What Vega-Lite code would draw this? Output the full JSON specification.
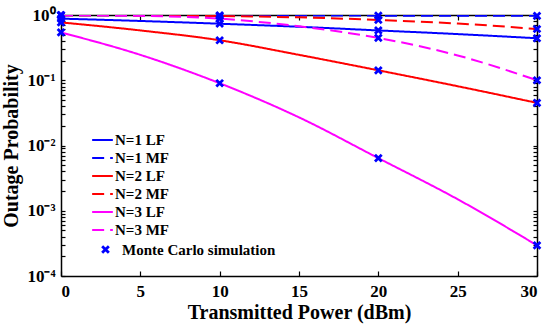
{
  "$schema": "https://vega.github.io/schema/vega-lite/v6.json",
  "width": 476,
  "height": 261,
  "autosize": {"type": "none"},
  "padding": {"left": 61, "top": 15, "right": 13, "bottom": 52},
  "config": {
    "view": {"stroke": null},
    "font": "Liberation Serif",
    "axis": {
      "domainColor": "black", "domainWidth": 1.5, "tickColor": "black", "tickWidth": 1.2,
      "labelFont": "Liberation Serif", "labelFontWeight": "bold", "labelFontSize": 17, "labelColor": "black",
      "titleFont": "Liberation Serif", "titleFontWeight": "bold", "titleFontSize": 20, "titleColor": "black",
      "grid": false
    },
    "legend": {"labelFont": "Liberation Serif", "labelFontWeight": "bold", "labelFontSize": 15, "labelColor": "black"}
  },
  "datasets": {
    "lines": [
      {"p": 0, "v": 0.88, "s": "N=1 LF"}, {"p": 5, "v": 0.81, "s": "N=1 LF"}, {"p": 10, "v": 0.735, "s": "N=1 LF"}, {"p": 15, "v": 0.66, "s": "N=1 LF"}, {"p": 20, "v": 0.58, "s": "N=1 LF"}, {"p": 25, "v": 0.51, "s": "N=1 LF"}, {"p": 30, "v": 0.44, "s": "N=1 LF"},
      {"p": 0, "v": 0.992, "s": "N=1 MF"}, {"p": 5, "v": 0.988, "s": "N=1 MF"}, {"p": 10, "v": 0.985, "s": "N=1 MF"}, {"p": 15, "v": 0.982, "s": "N=1 MF"}, {"p": 20, "v": 0.978, "s": "N=1 MF"}, {"p": 25, "v": 0.974, "s": "N=1 MF"}, {"p": 30, "v": 0.97, "s": "N=1 MF"},
      {"p": 0, "v": 0.77, "s": "N=2 LF"}, {"p": 5, "v": 0.58, "s": "N=2 LF"}, {"p": 10, "v": 0.41, "s": "N=2 LF"}, {"p": 15, "v": 0.245, "s": "N=2 LF"}, {"p": 20, "v": 0.142, "s": "N=2 LF"}, {"p": 25, "v": 0.081, "s": "N=2 LF"}, {"p": 30, "v": 0.045, "s": "N=2 LF"},
      {"p": 0, "v": 0.995, "s": "N=2 MF"}, {"p": 5, "v": 0.985, "s": "N=2 MF"}, {"p": 10, "v": 0.965, "s": "N=2 MF"}, {"p": 15, "v": 0.92, "s": "N=2 MF"}, {"p": 20, "v": 0.84, "s": "N=2 MF"}, {"p": 25, "v": 0.74, "s": "N=2 MF"}, {"p": 30, "v": 0.61, "s": "N=2 MF"},
      {"p": 0, "v": 0.54, "s": "N=3 LF"}, {"p": 5, "v": 0.245, "s": "N=3 LF"}, {"p": 10, "v": 0.09, "s": "N=3 LF"}, {"p": 15, "v": 0.027, "s": "N=3 LF"}, {"p": 20, "v": 0.0064, "s": "N=3 LF"}, {"p": 25, "v": 0.0015, "s": "N=3 LF"}, {"p": 30, "v": 0.000295, "s": "N=3 LF"},
      {"p": 0, "v": 0.995, "s": "N=3 MF"}, {"p": 5, "v": 0.97, "s": "N=3 MF"}, {"p": 10, "v": 0.88, "s": "N=3 MF"}, {"p": 15, "v": 0.67, "s": "N=3 MF"}, {"p": 20, "v": 0.445, "s": "N=3 MF"}, {"p": 25, "v": 0.24, "s": "N=3 MF"}, {"p": 30, "v": 0.1, "s": "N=3 MF"}
    ],
    "mc": [
      {"p": 0, "v": 0.88, "m": "Monte Carlo simulation"}, {"p": 10, "v": 0.735, "m": "Monte Carlo simulation"}, {"p": 20, "v": 0.58, "m": "Monte Carlo simulation"}, {"p": 30, "v": 0.44, "m": "Monte Carlo simulation"},
      {"p": 0, "v": 0.992, "m": "Monte Carlo simulation"}, {"p": 10, "v": 0.985, "m": "Monte Carlo simulation"}, {"p": 20, "v": 0.978, "m": "Monte Carlo simulation"}, {"p": 30, "v": 0.97, "m": "Monte Carlo simulation"},
      {"p": 0, "v": 0.77, "m": "Monte Carlo simulation"}, {"p": 10, "v": 0.41, "m": "Monte Carlo simulation"}, {"p": 20, "v": 0.142, "m": "Monte Carlo simulation"}, {"p": 30, "v": 0.045, "m": "Monte Carlo simulation"},
      {"p": 0, "v": 0.995, "m": "Monte Carlo simulation"}, {"p": 10, "v": 0.965, "m": "Monte Carlo simulation"}, {"p": 20, "v": 0.84, "m": "Monte Carlo simulation"}, {"p": 30, "v": 0.61, "m": "Monte Carlo simulation"},
      {"p": 0, "v": 0.54, "m": "Monte Carlo simulation"}, {"p": 10, "v": 0.09, "m": "Monte Carlo simulation"}, {"p": 20, "v": 0.0064, "m": "Monte Carlo simulation"}, {"p": 30, "v": 0.000295, "m": "Monte Carlo simulation"},
      {"p": 0, "v": 0.995, "m": "Monte Carlo simulation"}, {"p": 10, "v": 0.88, "m": "Monte Carlo simulation"}, {"p": 20, "v": 0.445, "m": "Monte Carlo simulation"}, {"p": 30, "v": 0.1, "m": "Monte Carlo simulation"}
    ]
  },
  "resolve": {"axis": {"x": "independent", "y": "independent"}},
  "layer": [
    {
      "data": {"name": "lines"},
      "mark": {"type": "line", "strokeWidth": 2, "interpolate": "monotone", "clip": true},
      "encoding": {
        "x": {"field": "p", "type": "quantitative", "scale": {"domain": [0, 30], "nice": false, "zero": false},
          "axis": {"orient": "bottom", "values": [0, 5, 10, 15, 20, 25, 30], "tickSize": -5, "labelPadding": 12, "title": "Transmitted Power (dBm)", "titlePadding": 3}},
        "y": {"field": "v", "type": "quantitative", "scale": {"type": "log", "domain": [0.0001, 1], "nice": false},
          "axis": {"orient": "left", "title": "Outage Probability", "titlePadding": 5,
            "values": [0.0001,0.0002,0.0003,0.0004,0.0005,0.0006,0.0007,0.0008,0.0009,0.001,0.002,0.003,0.004,0.005,0.006,0.007,0.008,0.009,0.01,0.02,0.03,0.04,0.05,0.06,0.07,0.08,0.09,0.1,0.2,0.3,0.4,0.5,0.6,0.7,0.8,0.9,1],
            "tickSize": -4, "labelPadding": 10,
            "labelExpr": "datum.value == 1 ? '10⁰' : datum.value == 0.1 ? '10⁻¹' : datum.value == 0.01 ? '10⁻²' : datum.value == 0.001 ? '10⁻³' : datum.value == 0.0001 ? '10⁻⁴' : ''"}},
        "color": {"field": "s", "type": "nominal",
          "scale": {"domain": ["N=1 LF", "N=1 MF", "N=2 LF", "N=2 MF", "N=3 LF", "N=3 MF"], "range": ["#0000ff", "#0000ff", "#ff0000", "#ff0000", "#ff00ff", "#ff00ff"]},
          "legend": {"title": null, "orient": "none", "legendX": 31.5, "legendY": 115, "padding": 0, "symbolSize": 324, "symbolStrokeWidth": 2, "labelOffset": 2.5, "rowPadding": 0, "symbolType": "M-1.15,0L1.15,0",
            "encode": {"symbols": {"update": {"strokeDash": {"signal": "test(/MF/, datum.value) ? [7, 6] : [1, 0]"}}}}}},
        "strokeDash": {"field": "s", "type": "nominal",
          "scale": {"domain": ["N=1 LF", "N=1 MF", "N=2 LF", "N=2 MF", "N=3 LF", "N=3 MF"], "range": [[1, 0], [12, 6], [1, 0], [12, 6], [1, 0], [12, 6]]},
          "legend": {"title": null, "orient": "none", "legendX": 31.5, "legendY": 115, "padding": 0, "symbolSize": 324, "symbolStrokeWidth": 2, "labelOffset": 2.5, "rowPadding": 0, "symbolType": "M-1.15,0L1.15,0",
            "encode": {"symbols": {"update": {"strokeDash": {"signal": "test(/MF/, datum.value) ? [7, 6] : [1, 0]"}}}}}}
      }
    },
    {
      "data": {"name": "mc"},
      "mark": {"type": "point", "filled": false, "color": "#0000ff", "strokeWidth": 2.8, "size": 45, "opacity": 1},
      "encoding": {
        "x": {"field": "p", "type": "quantitative",
          "axis": {"orient": "top", "values": [0, 5, 10, 15, 20, 25, 30], "tickSize": -5, "labels": false, "title": null}},
        "y": {"field": "v", "type": "quantitative",
          "axis": {"orient": "right", "values": [0.0001,0.0002,0.0003,0.0004,0.0005,0.0006,0.0007,0.0008,0.0009,0.001,0.002,0.003,0.004,0.005,0.006,0.007,0.008,0.009,0.01,0.02,0.03,0.04,0.05,0.06,0.07,0.08,0.09,0.1,0.2,0.3,0.4,0.5,0.6,0.7,0.8,0.9,1], "tickSize": -4, "labels": false, "title": null}},
        "shape": {"field": "m", "type": "nominal",
          "scale": {"range": ["M-1,-1L1,1M1,-1L-1,1"]},
          "legend": {"title": null, "orient": "none", "legendX": 37, "legendY": 227, "padding": 0, "symbolSize": 45, "symbolStrokeColor": "#0000ff", "symbolFillColor": "transparent", "symbolStrokeWidth": 2.8, "labelOffset": 9}}
      }
    }
  ]
}
